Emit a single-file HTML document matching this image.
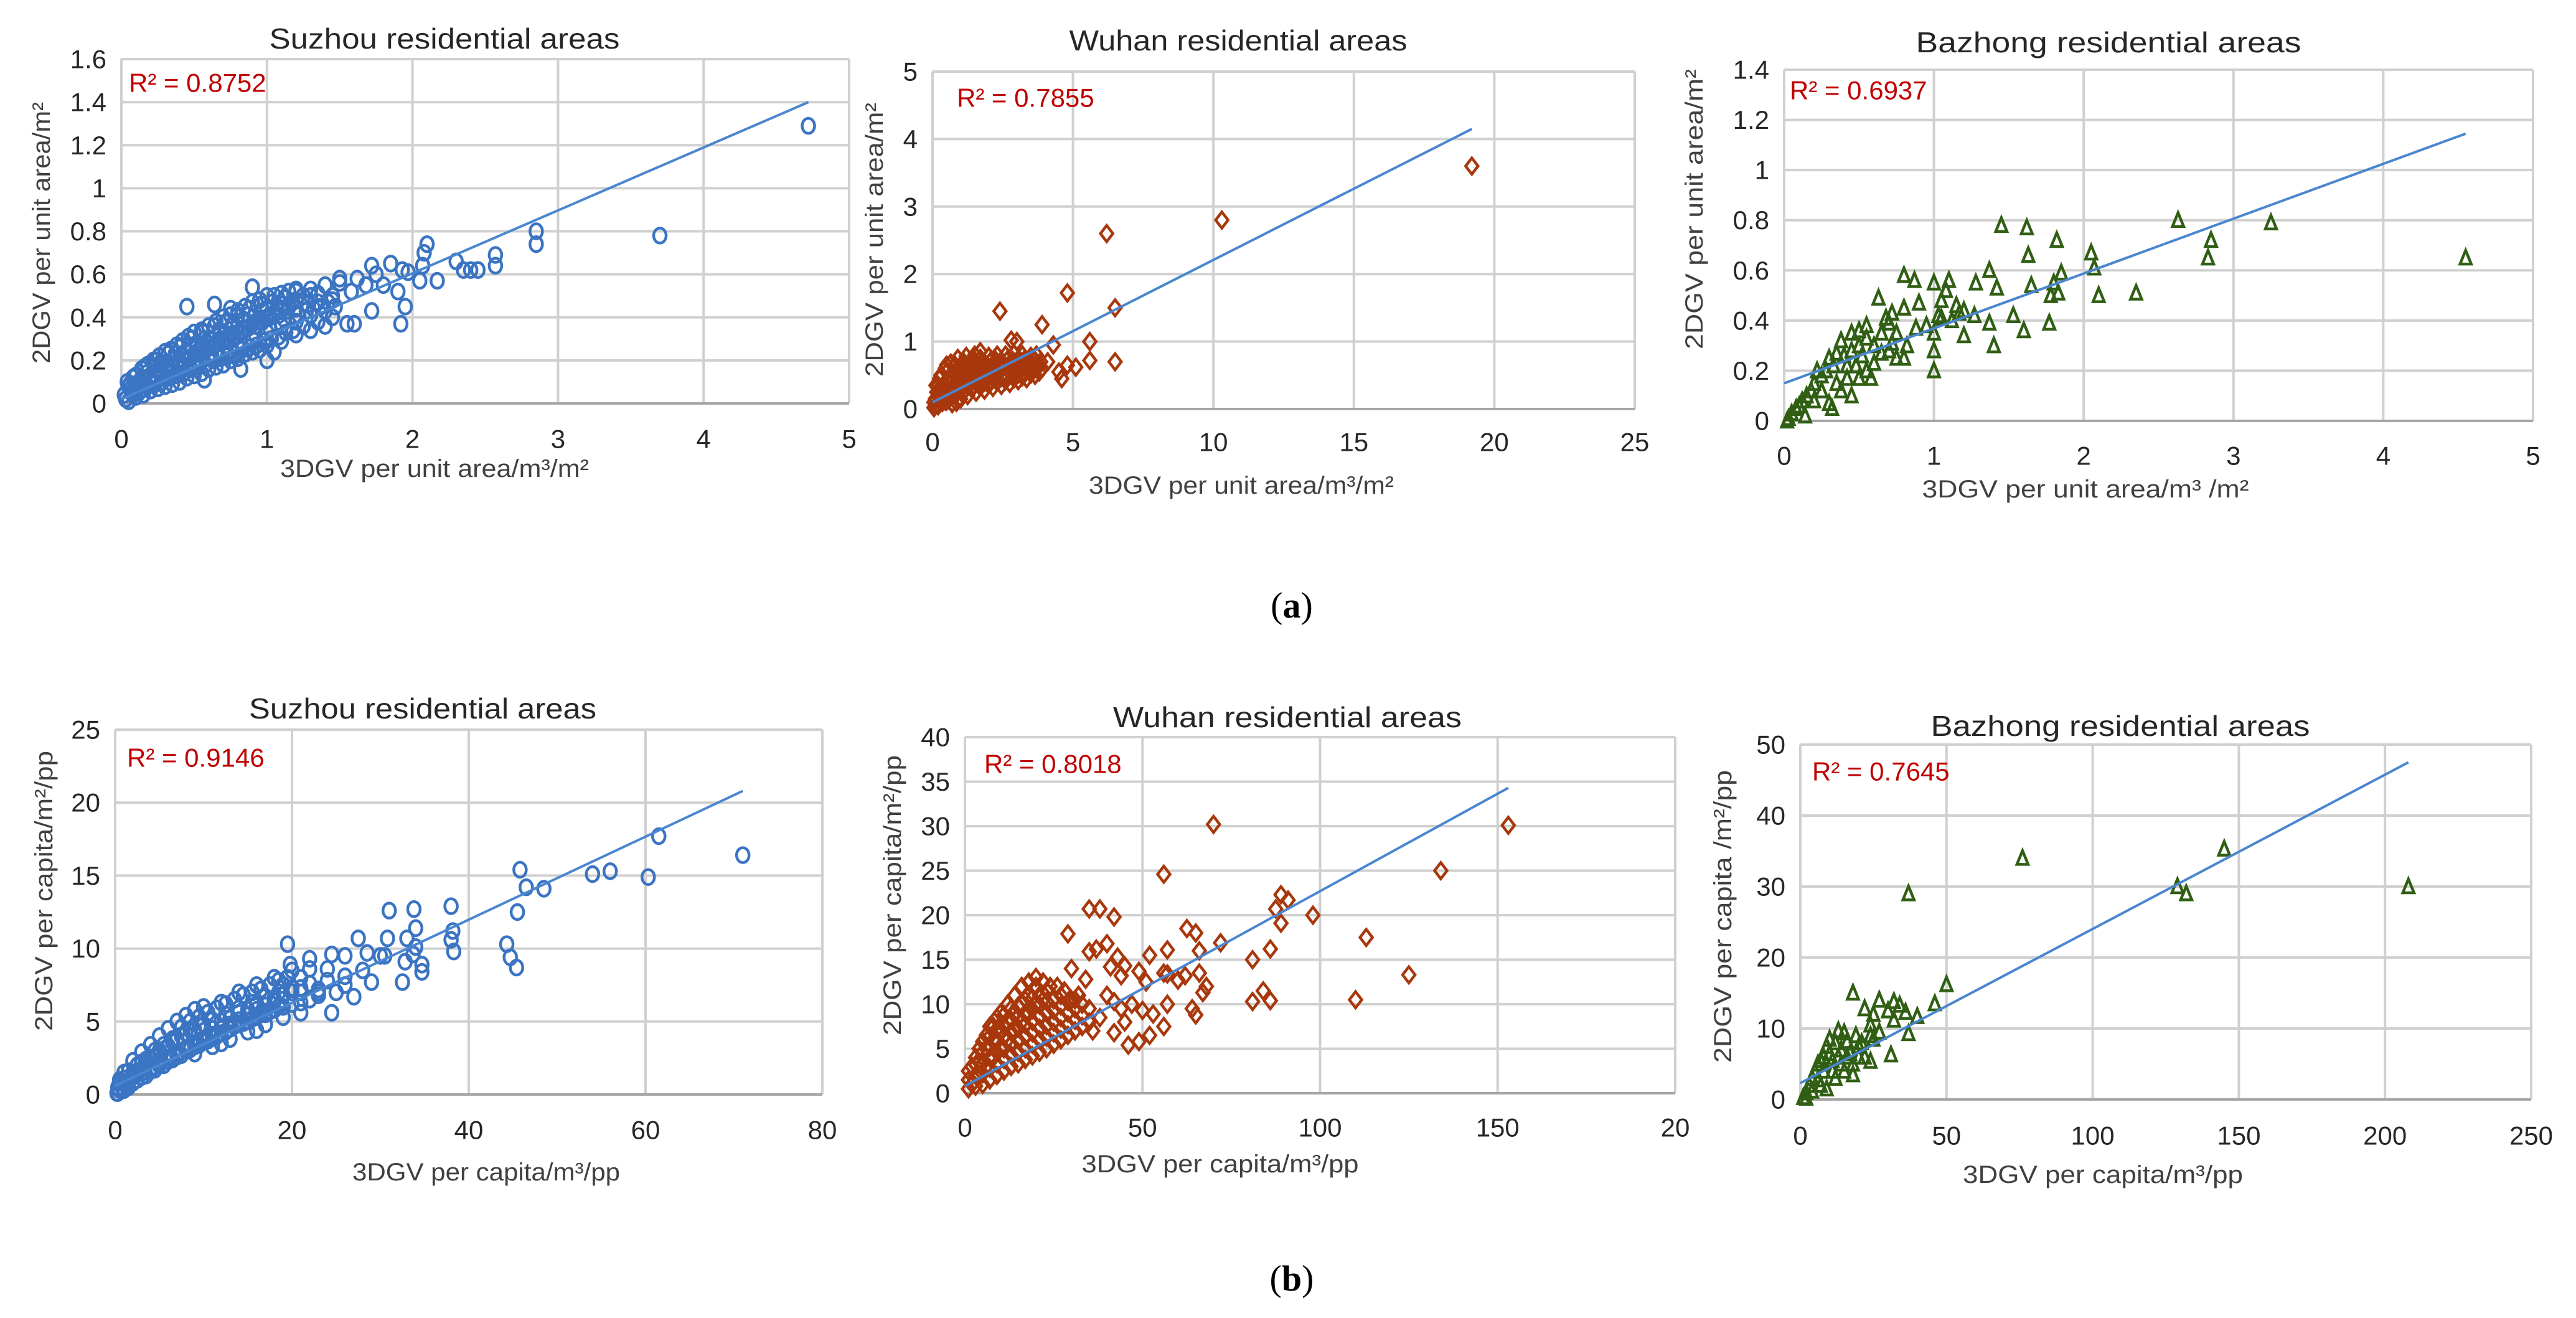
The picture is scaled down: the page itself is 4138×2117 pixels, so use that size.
<!DOCTYPE html>
<html><head><meta charset="utf-8"><style>
html,body{margin:0;padding:0;background:#fff;}
svg{display:block;font-family:"Liberation Sans",Arial,sans-serif;}
</style></head><body>
<svg id="fig" width="4138" height="2117" viewBox="0 0 4138 2117" xmlns="http://www.w3.org/2000/svg">
<rect x="0" y="0" width="4138" height="2117" fill="#fff"/>
<text x="2075" y="972" font-family="Liberation Serif,serif" font-size="58" text-anchor="middle" dominant-baseline="central">(<tspan font-weight="bold">a</tspan>)</text>
<text x="2075" y="2053" font-family="Liberation Serif,serif" font-size="58" text-anchor="middle" dominant-baseline="central">(<tspan font-weight="bold">b</tspan>)</text>
</svg>
<script>
// ---- data ----
const suzhouA = [[4.72,1.29],[3.7,0.78],[2.85,0.80],[2.85,0.74],[2.57,0.69],[2.57,0.64],[2.3,0.66],[2.35,0.62],[2.4,0.62],[2.45,0.62],[2.1,0.74],[2.08,0.70],[2.07,0.64],[2.17,0.57],[1.97,0.61],[1.93,0.62],[1.85,0.65],[1.72,0.64],[1.75,0.60],[1.62,0.58],[1.5,0.58],[1.95,0.45],[1.92,0.37],[1.72,0.43],[1.6,0.37],[1.55,0.37],[0.9,0.54],[0.45,0.45],[0.64,0.46],[0.75,0.44],[1.05,0.24],[1.0,0.20],[0.82,0.16],[0.57,0.11],[1.2,0.53],[1.25,0.5],[1.8,0.55],[1.9,0.52],[2.05,0.57],[1.68,0.55],[1.58,0.52],[1.45,0.5],
[0.02,0.04],[0.06,0.09],[0.1,0.13],[0.14,0.16],[0.18,0.18],[0.22,0.2],[0.26,0.22],[0.3,0.24],[0.34,0.25],[0.38,0.27],[0.42,0.29],[0.46,0.31],[0.5,0.33],[0.55,0.34],[0.6,0.36],[0.65,0.38],[0.7,0.4],[0.75,0.41],[0.8,0.43],[0.85,0.45],[0.9,0.47],[0.95,0.48],[1.0,0.5],[1.05,0.5],[1.1,0.51],[1.15,0.52],[1.2,0.52],[1.3,0.53],[1.4,0.55],[1.5,0.56],
[0.03,0.02],[0.07,0.05],[0.11,0.07],[0.15,0.09],[0.19,0.11],[0.23,0.12],[0.27,0.14],[0.31,0.15],[0.35,0.17],[0.39,0.18],[0.43,0.2],[0.47,0.21],[0.52,0.23],[0.57,0.24],[0.62,0.26],[0.67,0.28],[0.72,0.3],[0.77,0.31],[0.82,0.33],[0.87,0.35],[0.92,0.36],[0.97,0.38],[1.02,0.4],[1.08,0.41],[1.14,0.43],[1.2,0.44],[1.28,0.46],[1.35,0.47],[1.45,0.48],
[0.05,0.01],[0.1,0.03],[0.15,0.04],[0.2,0.06],[0.25,0.07],[0.3,0.08],[0.35,0.09],[0.4,0.1],[0.45,0.12],[0.5,0.13],[0.55,0.14],[0.6,0.16],[0.65,0.17],[0.7,0.18],[0.75,0.2],[0.8,0.21],[0.85,0.23],[0.9,0.24],[0.95,0.25],[1.0,0.27],[1.1,0.29],[1.2,0.32],[1.3,0.34],[1.4,0.36],
[0.12,0.1],[0.2,0.13],[0.28,0.18],[0.36,0.21],[0.44,0.24],[0.52,0.28],[0.6,0.3],[0.68,0.33],[0.76,0.36],[0.84,0.39],[0.92,0.42],[1.0,0.44],[1.1,0.46],[1.2,0.48],[1.3,0.5],[0.4,0.14],[0.5,0.18],[0.6,0.21],[0.7,0.24],[0.8,0.27],[0.9,0.3],[1.0,0.33],[1.1,0.36],[1.2,0.38],[1.3,0.41],[1.4,0.43]];
const suzhouAcluster = [[0.05,0.08],[0.1,0.09],[0.15,0.11],[0.2,0.13],[0.25,0.15],[0.3,0.16],[0.35,0.18],[0.4,0.2],[0.45,0.21],[0.5,0.23],[0.55,0.25],[0.6,0.26],[0.65,0.28],[0.7,0.3],[0.75,0.32],[0.8,0.33],[0.85,0.35],[0.9,0.37],[0.95,0.38],[1.0,0.4],[1.05,0.42],[1.1,0.43],[1.15,0.45],
[0.08,0.04],[0.13,0.06],[0.18,0.08],[0.23,0.09],[0.28,0.1],[0.33,0.12],[0.38,0.13],[0.43,0.14],[0.48,0.16],[0.53,0.17],[0.58,0.18],[0.63,0.2],[0.68,0.21],[0.73,0.22],[0.78,0.23],[0.83,0.25],[0.88,0.26],[0.93,0.27],[0.98,0.29],[1.03,0.3],[1.08,0.31],[1.13,0.33],[1.18,0.34],[1.25,0.36],[1.35,0.38],[1.45,0.4],
[0.04,0.1],[0.08,0.12],[0.16,0.17],[0.24,0.2],[0.32,0.23],[0.4,0.26],[0.48,0.3],[0.56,0.33],[0.64,0.36],[0.72,0.38],[0.8,0.41],[0.88,0.44],[0.96,0.46],[1.04,0.47],[1.12,0.49],[1.25,0.5],[1.35,0.51],
[0.07,0.07],[0.17,0.14],[0.27,0.19],[0.37,0.23],[0.47,0.27],[0.57,0.3],[0.67,0.34],[0.77,0.37],[0.87,0.41],[0.97,0.43],[1.07,0.45],[1.17,0.47],[1.27,0.43],[1.37,0.45],[1.47,0.45],
[0.12,0.05],[0.22,0.1],[0.32,0.14],[0.42,0.17],[0.52,0.2],[0.62,0.23],[0.72,0.27],[0.82,0.29],[0.92,0.32],[1.02,0.35],[1.12,0.39],[1.22,0.41],[1.32,0.44],[1.42,0.47]];
const wuhanA = [[19.2,3.6],[10.3,2.8],[6.2,2.6],[4.8,1.72],[6.5,1.5],[2.4,1.45],[3.9,1.25],[2.8,1.02],[3,1.0],[4.3,0.95],[5.6,1.0],[5.6,0.72],[6.5,0.7],[5.1,0.62],[4.8,0.65],[4.5,0.55],[4.6,0.45],[4.1,0.7],[3.7,0.8],[1.7,0.85],
[0.2,0.35],[0.5,0.55],[0.8,0.65],[1.1,0.7],[1.4,0.72],[1.7,0.75],[2.0,0.78],[2.3,0.8],[2.6,0.8],[2.9,0.82],[3.2,0.8],[3.5,0.78],
[0.1,0.15],[0.3,0.3],[0.6,0.4],[0.9,0.45],[1.2,0.5],[1.5,0.52],[1.8,0.55],[2.1,0.58],[2.4,0.6],[2.7,0.62],[3.0,0.64],[3.3,0.65],[3.6,0.65],
[0.2,0.05],[0.5,0.12],[0.8,0.2],[1.1,0.25],[1.4,0.3],[1.7,0.33],[2.0,0.36],[2.3,0.4],[2.6,0.42],[2.9,0.45],[3.2,0.48],[3.5,0.52],[3.8,0.55],
[0.4,0.22],[0.7,0.3],[1.0,0.35],[1.3,0.4],[1.6,0.42],[1.9,0.46],[2.2,0.5],[2.5,0.52],[2.8,0.54],[3.1,0.57],[0.05,0.02],[0.3,0.1],[1.0,0.58],[1.6,0.62],[2.2,0.68],[2.8,0.7],[3.4,0.7]];
const wuhanAcluster = [[0.15,0.25],[0.35,0.2],[0.45,0.35],[0.55,0.28],[0.65,0.5],[0.75,0.35],[0.85,0.55],[0.95,0.3],[1.05,0.6],[1.15,0.4],[1.25,0.62],[1.35,0.45],[1.45,0.65],[1.55,0.38],[1.65,0.6],[1.75,0.45],[1.85,0.68],[1.95,0.5],[2.05,0.7],[2.15,0.45],[2.25,0.72],[2.35,0.55],[2.45,0.7],[2.55,0.5],[2.65,0.72],[2.75,0.58],[2.85,0.72],[2.95,0.55],[3.05,0.74],[3.15,0.6],[3.25,0.72],[3.35,0.58],[3.45,0.7],[3.55,0.6],[3.65,0.72],[3.75,0.62],[3.85,0.7],[0.25,0.45],[0.45,0.6],[0.65,0.68],[0.9,0.75],[1.2,0.78],[1.5,0.8],[0.1,0.05],[0.2,0.2],[0.35,0.1],[0.6,0.15],[0.7,0.08],
[0.55,0.45],[0.75,0.52],[0.95,0.58],[1.15,0.55],[1.35,0.58],[1.55,0.62],[1.75,0.62],[1.95,0.64],[2.15,0.62],[2.35,0.65],[2.55,0.66],[2.75,0.66],[2.95,0.68],[3.15,0.7],[3.35,0.68],[0.85,0.1],[1.0,0.15],[1.25,0.2],[1.55,0.25],[1.85,0.28],[2.15,0.32],[2.45,0.35],[2.75,0.38],[3.05,0.42],[3.35,0.45],[3.65,0.5],[3.9,0.6],
[0.45,0.12],[0.65,0.22],[0.85,0.28],[1.05,0.3],[1.25,0.35],[1.45,0.35],[1.65,0.38],[1.85,0.4],[2.05,0.42],[2.25,0.45],[2.45,0.47],[2.65,0.49],[2.85,0.5],[3.05,0.52],[3.25,0.55],[3.45,0.56],[0.12,0.35],[0.3,0.5],[0.5,0.65],[0.05,0.1]];
const bazhongA = [[1.45,0.78],[1.62,0.77],[1.82,0.72],[1.63,0.66],[2.05,0.67],[2.07,0.61],[2.1,0.5],[2.35,0.51],[2.63,0.8],[2.85,0.72],[2.83,0.65],[3.25,0.79],[4.55,0.65],[1.37,0.6],[1.42,0.53],[1.65,0.54],[1.85,0.59],[1.8,0.55],[1.78,0.5],[1.83,0.51],[1.77,0.39],[1.6,0.36],[1.53,0.42],[1.4,0.3],[1.37,0.39],[1.27,0.42],[1.28,0.55],[1.1,0.56],[1.0,0.55],[1.08,0.52],[0.8,0.58],[0.87,0.56],[0.63,0.49],[0.9,0.47],[0.8,0.45],[1.05,0.48],[1.15,0.46],[1.17,0.43],[1.2,0.44],[1.03,0.42],[1.05,0.41],[1.12,0.4],[1.0,0.35],[0.95,0.38],[0.88,0.37],[1.2,0.34],[1.0,0.28],[1.0,0.2],[0.68,0.41],[0.72,0.43],[0.7,0.39],[0.75,0.35],[0.82,0.3],[0.8,0.25],[0.75,0.25],[0.7,0.28],[0.65,0.27],[0.6,0.3],[0.55,0.38],[0.5,0.36],[0.45,0.35],[0.55,0.33],[0.5,0.3],[0.45,0.28],[0.52,0.26],[0.55,0.2],[0.58,0.17],[0.5,0.17],[0.42,0.22],[0.4,0.26],[0.38,0.32],[0.35,0.27],[0.33,0.22],[0.3,0.25],[0.28,0.2],[0.25,0.18],[0.22,0.2],[0.2,0.15],[0.18,0.12],[0.15,0.1],[0.12,0.08],[0.1,0.06],[0.08,0.05],[0.05,0.03],[0.03,0.01],[0.02,0.0],[0.14,0.02],[0.3,0.07],[0.32,0.05],[0.45,0.1],[0.38,0.12],[0.25,0.12],[0.2,0.08],[0.35,0.15],[0.42,0.17],[0.48,0.22],[0.6,0.23],[0.65,0.35],[0.72,0.31]];
const suzhouB = [[71,16.4],[61.5,17.7],[60.3,14.9],[56,15.3],[54,15.1],[48.5,14.1],[46.5,14.2],[45.8,15.4],[45.5,12.5],[44.3,10.3],[44.7,9.4],[45.4,8.7],[38,12.9],[38.2,11.2],[38,10.6],[38.3,9.8],[33.8,12.7],[34,11.4],[34,10.1],[33.7,9.6],[33,10.7],[32.8,9.1],[34.7,8.9],[34.7,8.4],[31,12.6],[30.8,10.7],[30.5,9.5],[32.5,7.7],[27.5,10.7],[28.5,9.7],[26,9.5],[24.5,9.6],[19.5,10.3],[19.8,8.9],[22,9.3],[24,8.6],[24.5,5.6],[23,7.2],[27,6.7],[29,7.7],[30,9.5],[28,8.5],[26,7.5],[25,7],
[1,1.5],[2,2.3],[3,2.9],[4,3.4],[5,4.0],[6,4.5],[7,5.0],[8,5.4],[9,5.8],[10,6.0],[12,6.3],[14,7.0],[16,7.5],[18,8.0],[20,8.5],[22,8.6],
[0.5,0.3],[1.5,0.9],[2.5,1.6],[3.5,2.1],[4.5,2.6],[5.5,3.1],[6.5,3.6],[7.5,4.0],[8.5,4.4],[9.5,4.7],[11,5.1],[12.5,5.5],[14,5.9],[15.5,6.3],[17,6.7],[18.5,7.0],[20,7.3],[22,7.6],[24,7.8],[26,8.1],
[1,0.3],[2,0.8],[3,1.2],[4,1.6],[5,2.0],[6,2.3],[7,2.6],[8,3.0],[9,3.3],[10,3.6],[11,3.9],[12,4.2],[13,4.5],[14,4.8],[15,5.0],[16,5.3],[17,5.5],[18,5.8],[19,6.0],[20,6.2],[22,6.5],
[2,1.5],[4,2.5],[6,3.3],[8,4.2],[10,4.8],[12,5.0],[14,5.6],[16,6.2],[18,6.6],[3,2.2],[5,3.0],[7,3.8],[9,4.4],[11,4.5],[13,5.2],[15,5.8],[17,6.1],[19,7.5],[21,7.0],[0.3,0.1]];
const suzhouBcluster = [[1,0.8],[2,1.2],[3,1.5],[4,1.8],[5,2.2],[6,2.5],[7,2.8],[8,3.1],[9,3.5],[10,3.8],[11,4.1],[12,4.5],[13,4.8],[14,5.1],[15,5.5],[16,5.8],[17,6.1],[18,6.4],[19,6.8],[20,7.0],[21,7.3],[23,7.0],
[0.5,1],[1.5,1.6],[2.5,2.0],[3.5,2.4],[4.5,3.0],[5.5,3.4],[6.5,3.8],[7.5,4.6],[8.5,5.0],[9.5,5.3],[10.5,5.6],[11.5,5.9],[12.5,6.2],[13.5,6.5],[14.5,6.8],[15.5,7.0],[16.5,7.2],[17.5,7.5],[18.5,7.8],[19.5,8.0],[21,8.0],
[1.5,0.5],[2.5,1.0],[3.5,1.3],[4.5,1.7],[5.5,2.0],[6.5,2.4],[7.5,2.7],[8.5,3.1],[9.5,3.4],[10.5,3.7],[11.5,4.0],[12.5,4.3],[13.5,4.7],[14.5,4.9],[15.5,5.2],[16.5,5.5],[17.5,5.7],[18.5,6.0],[21,6.3],[23,6.8],
[0.3,0.5],[0.8,0.5],[1.2,1.1],[0.2,0.1],[0.6,0.8],[9,2.8],[11,3.3],[13,3.8],[15,4.3],[17,4.8],[19,5.3],[21,5.6],[16,4.4],[12,3.5]];
const wuhanB = [[70,30.2],[153,30.1],[56,24.6],[134,25],[35,20.7],[38,20.7],[42,19.8],[29,17.9],[89,22.3],[91,21.7],[87.5,20.7],[89,19.1],[98,20],[113,17.5],[125,13.3],[110,10.5],[86,10.4],[81,10.3],[84,11.5],[86,16.2],[81,15],[72,16.9],[62.5,18.5],[65,18],[57,16.1],[66,16],[52,15.5],[40,16.8],[35,15.9],[37,16.2],[43,15.3],[30,14],[34,12.8],[41,14.2],[45,14.3],[44,13.2],[49,13.7],[51,12.5],[56,13.5],[57,13.4],[60,12.7],[62,13.2],[66,13.5],[67,11.3],[68,12],[57,10],[64,9.5],[65,8.8],[56,7.5],[53,8.9],[50,9.3],[52,6.5],[49,5.8],[46,5.4],[42,6.8],[45,8],[47,10],[36,7],[38,8.5],[40,11],[42,10.3],[44,9.5]];
const wuhanBcluster = [[1,0.5],[1,1.5],[1,2.5],[3,0.8],[3,2],[3,3.2],[3,4],[5,1],[5,2.2],[5,3.4],[5,4.6],[5,5.8],[7,1.5],[7,2.8],[7,4],[7,5.2],[7,6.4],[7,7.5],[9,2],[9,3.3],[9,4.6],[9,6],[9,7.2],[9,8.5],[11,2.5],[11,3.8],[11,5],[11,6.3],[11,7.6],[11,8.8],[13,3],[13,4.3],[13,5.6],[13,6.9],[13,8.2],[13,9.5],[15,3.3],[15,4.6],[15,6],[15,7.3],[15,8.6],[15,9.8],[17,3.8],[17,5],[17,6.4],[17,7.7],[17,9],[17,10.5],[19,4.2],[19,5.5],[19,6.8],[19,8.1],[19,9.4],[19,10.7],[21,4.6],[21,6],[21,7.3],[21,8.6],[21,9.9],[21,11],[23,5],[23,6.3],[23,7.6],[23,9],[23,10.3],[23,11.5],[25,5.5],[25,6.8],[25,8],[25,9.3],[25,10.5],[27,6],[27,7.2],[27,8.5],[27,9.8],[27,11],[29,6.5],[29,7.7],[29,9],[29,10.3],[31,7],[31,8.2],[31,9.5],[31,10.5],[33,7.5],[33,8.7],[33,10],[35,8],[35,9.5],
[2,1],[4,2],[6,3],[8,4],[10,5],[12,6],[14,7],[16,8],[18,9],[20,10],[22,10.5],[24,12],[2,3],[4,3.5],[6,5],[8,6],[10,7],[12,8],[14,9],[16,10],[18,11],[20,12],[22,12.5],[26,12],[28,11.5],[30,10.5],[32,11],[4,5],[6,6.5],[8,7.5],[10,9],[12,10],[14,11],[16,12],[18,12.5],[20,13]];
const bazhongB = [[76,34],[37,29],[145,35.3],[129,30],[132,29],[208,30],[50,16.2],[46,13.5],[18,15],[27,14],[32,13.8],[34,13.3],[30,12.5],[36,12.3],[40,11.7],[22,12.8],[25,12],[32,11.2],[37,9.3],[31,6.3],[24,5.4],[18,3.5],[24,9],[24,10.5],[27,9.5],[25,8.5],[20,6],[13,9.7],[15,9.4],[16,8.2],[12,8],[9,7.5],[10,6.5],[8,6],[6,5],[5,4],[4,3],[3,2],[2,1],[1,0.3],[7,2],[9,1.5],[11,4],[14,5],[17,6.5],[15,4],[12,3],[20,7.5],[22,6],[18,5],[6,2.8],[4,1.2],[2,0.2],[13,6],[10,8.5],[14,7],[16,6],[11,5.5],[8,4],[7,5.5],[19,9],[21,8]];
const trends = {sa:[[0,0.02],[4.72,1.40]], wa:[[0,0.1],[19.2,4.15]], ba:[[0,0.15],[4.55,1.145]], sb:[[0,0.6],[71,20.8]], wb:[[0,0.8],[153,34.3]], bb:[[0,2.3],[208,47.5]]};
const ticksSA_X=["0","1","2","3","4","5"], ticksSA_Y=["0","0.2","0.4","0.6","0.8","1","1.2","1.4","1.6"];
const ticksWA_X=["0","5","10","15","20","25"], ticksWA_Y=["0","1","2","3","4","5"];
const ticksBA_X=["0","1","2","3","4","5"], ticksBA_Y=["0","0.2","0.4","0.6","0.8","1","1.2","1.4"];
const ticksSB_X=["0","20","40","60","80"], ticksSB_Y=["0","5","10","15","20","25"];
const ticksWB_X=["0","50","100","150","20"], ticksWB_Y=["0","5","10","15","20","25","30","35","40"];
const ticksBB_X=["0","50","100","150","200","250"], ticksBB_Y=["0","10","20","30","40","50"];
const r2Values=["0.8752","0.7855","0.6937","0.9146","0.8018","0.7645"];

const NS="http://www.w3.org/2000/svg";
const svg=document.getElementById('fig');
function mk(tag,attrs,parent){const e=document.createElementNS(NS,tag);for(const k in attrs)e.setAttribute(k,attrs[k]);(parent||svg).appendChild(e);return e;}

const panels=[
 {id:'suzhou-a',L:195,R:1364,T:95,B:648,xmax:5,ymax:1.6,xt:ticksSA_X,yt:ticksSA_Y,pts:suzhouA.concat(suzhouAcluster),tr:trends.sa,mk:'circle',col:'#3a74c2',
  title:'Suzhou residential areas',tx:714,ty:62,tl:563,xl:'3DGV per unit area/m³/m²',xx:698,xy:753,xlen:496,yl:'2DGV per unit area/m²',yx:67,yy:374,ylen:420,r2:0,rx:207,ry:133,tky:705},
 {id:'wuhan-a',L:1498,R:2626,T:115,B:657,xmax:25,ymax:5,xt:ticksWA_X,yt:ticksWA_Y,pts:wuhanA.concat(wuhanAcluster),tr:trends.wa,mk:'diamond',col:'#a8380c',
  title:'Wuhan residential areas',tx:1989,ty:65,tl:543,xl:'3DGV per unit area/m³/m²',xx:1994,xy:780,xlen:490,yl:'2DGV per unit area/m²',yx:1405,yy:385,ylen:440,r2:1,rx:1537,ry:157,tky:710},
 {id:'bazhong-a',L:2866,R:4069,T:112,B:676,xmax:5,ymax:1.4,xt:ticksBA_X,yt:ticksBA_Y,pts:bazhongA,tr:trends.ba,mk:'triangle',col:'#305f14',
  title:'Bazhong residential areas',tx:3387,ty:68,tl:619,xl:'3DGV per unit area/m³ /m²',xx:3350,xy:786,xlen:525,yl:'2DGV per unit area/m²',yx:2722,yy:336,ylen:450,r2:2,rx:2875,ry:145,tky:732},
 {id:'suzhou-b',L:185,R:1321,T:1172,B:1758,xmax:80,ymax:25,xt:ticksSB_X,yt:ticksSB_Y,pts:suzhouB.concat(suzhouBcluster),tr:trends.sb,mk:'circle',col:'#3a74c2',
  title:'Suzhou residential areas',tx:679,ty:1138,tl:558,xl:'3DGV per capita/m³/pp',xx:781,xy:1883,xlen:430,yl:'2DGV per capita/m²/pp',yx:71,yy:1431,ylen:450,r2:3,rx:204,ry:1217,tky:1815},
 {id:'wuhan-b',L:1550,R:2691,T:1184,B:1756,xmax:200,ymax:40,xt:ticksWB_X,yt:ticksWB_Y,pts:wuhanB.concat(wuhanBcluster),tr:trends.wb,mk:'diamond',col:'#a8380c',
  title:'Wuhan residential areas',tx:2068,ty:1152,tl:560,xl:'3DGV per capita/m³/pp',xx:1960,xy:1870,xlen:445,yl:'2DGV per capita/m²/pp',yx:1434,yy:1438,ylen:450,r2:4,rx:1581,ry:1227,tky:1811},
 {id:'bazhong-b',L:2892,R:4066,T:1196,B:1766,xmax:250,ymax:50,xt:ticksBB_X,yt:ticksBB_Y,pts:bazhongB,tr:trends.bb,mk:'triangle',col:'#305f14',
  title:'Bazhong residential areas',tx:3406,ty:1166,tl:609,xl:'3DGV per capita/m³/pp',xx:3378,xy:1887,xlen:450,yl:'2DGV per capita /m²/pp',yx:2768,yy:1472,ylen:470,r2:5,rx:2911,ry:1239,tky:1824}
];

panels.forEach(p=>{
 const g=mk('g',{});
 
 
 const sx=v=>p.L+(v/p.xmax)*(p.R-p.L);
 const sy=v=>p.B-(v/p.ymax)*(p.B-p.T);
 const nx=p.xt.length-1, ny=p.yt.length-1;
 for(let i=0;i<=ny;i++){const v=p.ymax*i/ny;const l=mk('line',{x1:p.L,x2:p.R,y1:sy(v),y2:sy(v),stroke:'#d0d0d0','stroke-width':4},g);
  
  
  const t=mk('text',{x:p.L-24,y:sy(v),'font-size':42,'text-anchor':'end','dominant-baseline':'central',fill:'#262626'},g);
  
  
  t.textContent=p.yt[i];}
 for(let i=0;i<=nx;i++){const v=p.xmax*i/nx;const l=mk('line',{x1:sx(v),x2:sx(v),y1:p.T,y2:p.B,stroke:'#d0d0d0','stroke-width':4},g);
  
  
  const t=mk('text',{x:sx(v),y:p.tky,'font-size':42,'text-anchor':'middle','dominant-baseline':'central',fill:'#262626'},g);
  
  
  t.textContent=p.xt[i];}
 const ax=mk('line',{x1:p.L,x2:p.R,y1:p.B,y2:p.B,stroke:'#a6a6a6','stroke-width':4},g);
 
 
 const pg=mk('g',{fill:'none',stroke:p.col,'stroke-width':4.5},g);
 
 
 p.pts.forEach(d=>{const x=sx(d[0]),y=sy(d[1]);let e;
  if(p.mk==='circle') e=mk('ellipse',{cx:x,cy:y,rx:10,ry:12},pg);
  else if(p.mk==='diamond') e=mk('polygon',{points:`${x},${y-13} ${x+10},${y} ${x},${y+13} ${x-10},${y}`},pg);
  else e=mk('polygon',{points:`${x},${y-12} ${x+9},${y+10} ${x-9},${y+10}`},pg);
  
  
 });
 const tl=mk('line',{x1:sx(p.tr[0][0]),y1:sy(p.tr[0][1]),x2:sx(p.tr[1][0]),y2:sy(p.tr[1][1]),stroke:'#4a86d0','stroke-width':4},g);
 
 
 const ti=mk('text',{x:p.tx,y:p.ty,'font-size':46,'text-anchor':'middle','dominant-baseline':'central',fill:'#262626',textLength:p.tl,lengthAdjust:'spacingAndGlyphs'},g);
 
 
 ti.textContent=p.title;
 const xt=mk('text',{x:p.xx,y:p.xy,'font-size':40,'text-anchor':'middle','dominant-baseline':'central',fill:'#404040',textLength:p.xlen,lengthAdjust:'spacingAndGlyphs'},g);
 
 
 xt.textContent=p.xl;
 const yt=mk('text',{x:0,y:0,'font-size':40,'text-anchor':'middle','dominant-baseline':'central',fill:'#404040',textLength:p.ylen,lengthAdjust:'spacingAndGlyphs',transform:`translate(${p.yx},${p.yy}) rotate(-90)`},g);
 
 
 yt.textContent=p.yl;
 const r=mk('text',{x:p.rx,y:p.ry,'font-size':42,'dominant-baseline':'central',fill:'#c00000'},g);
 
 
 r.textContent='R² = '+r2Values[p.r2];
});
</script>
</body></html>
